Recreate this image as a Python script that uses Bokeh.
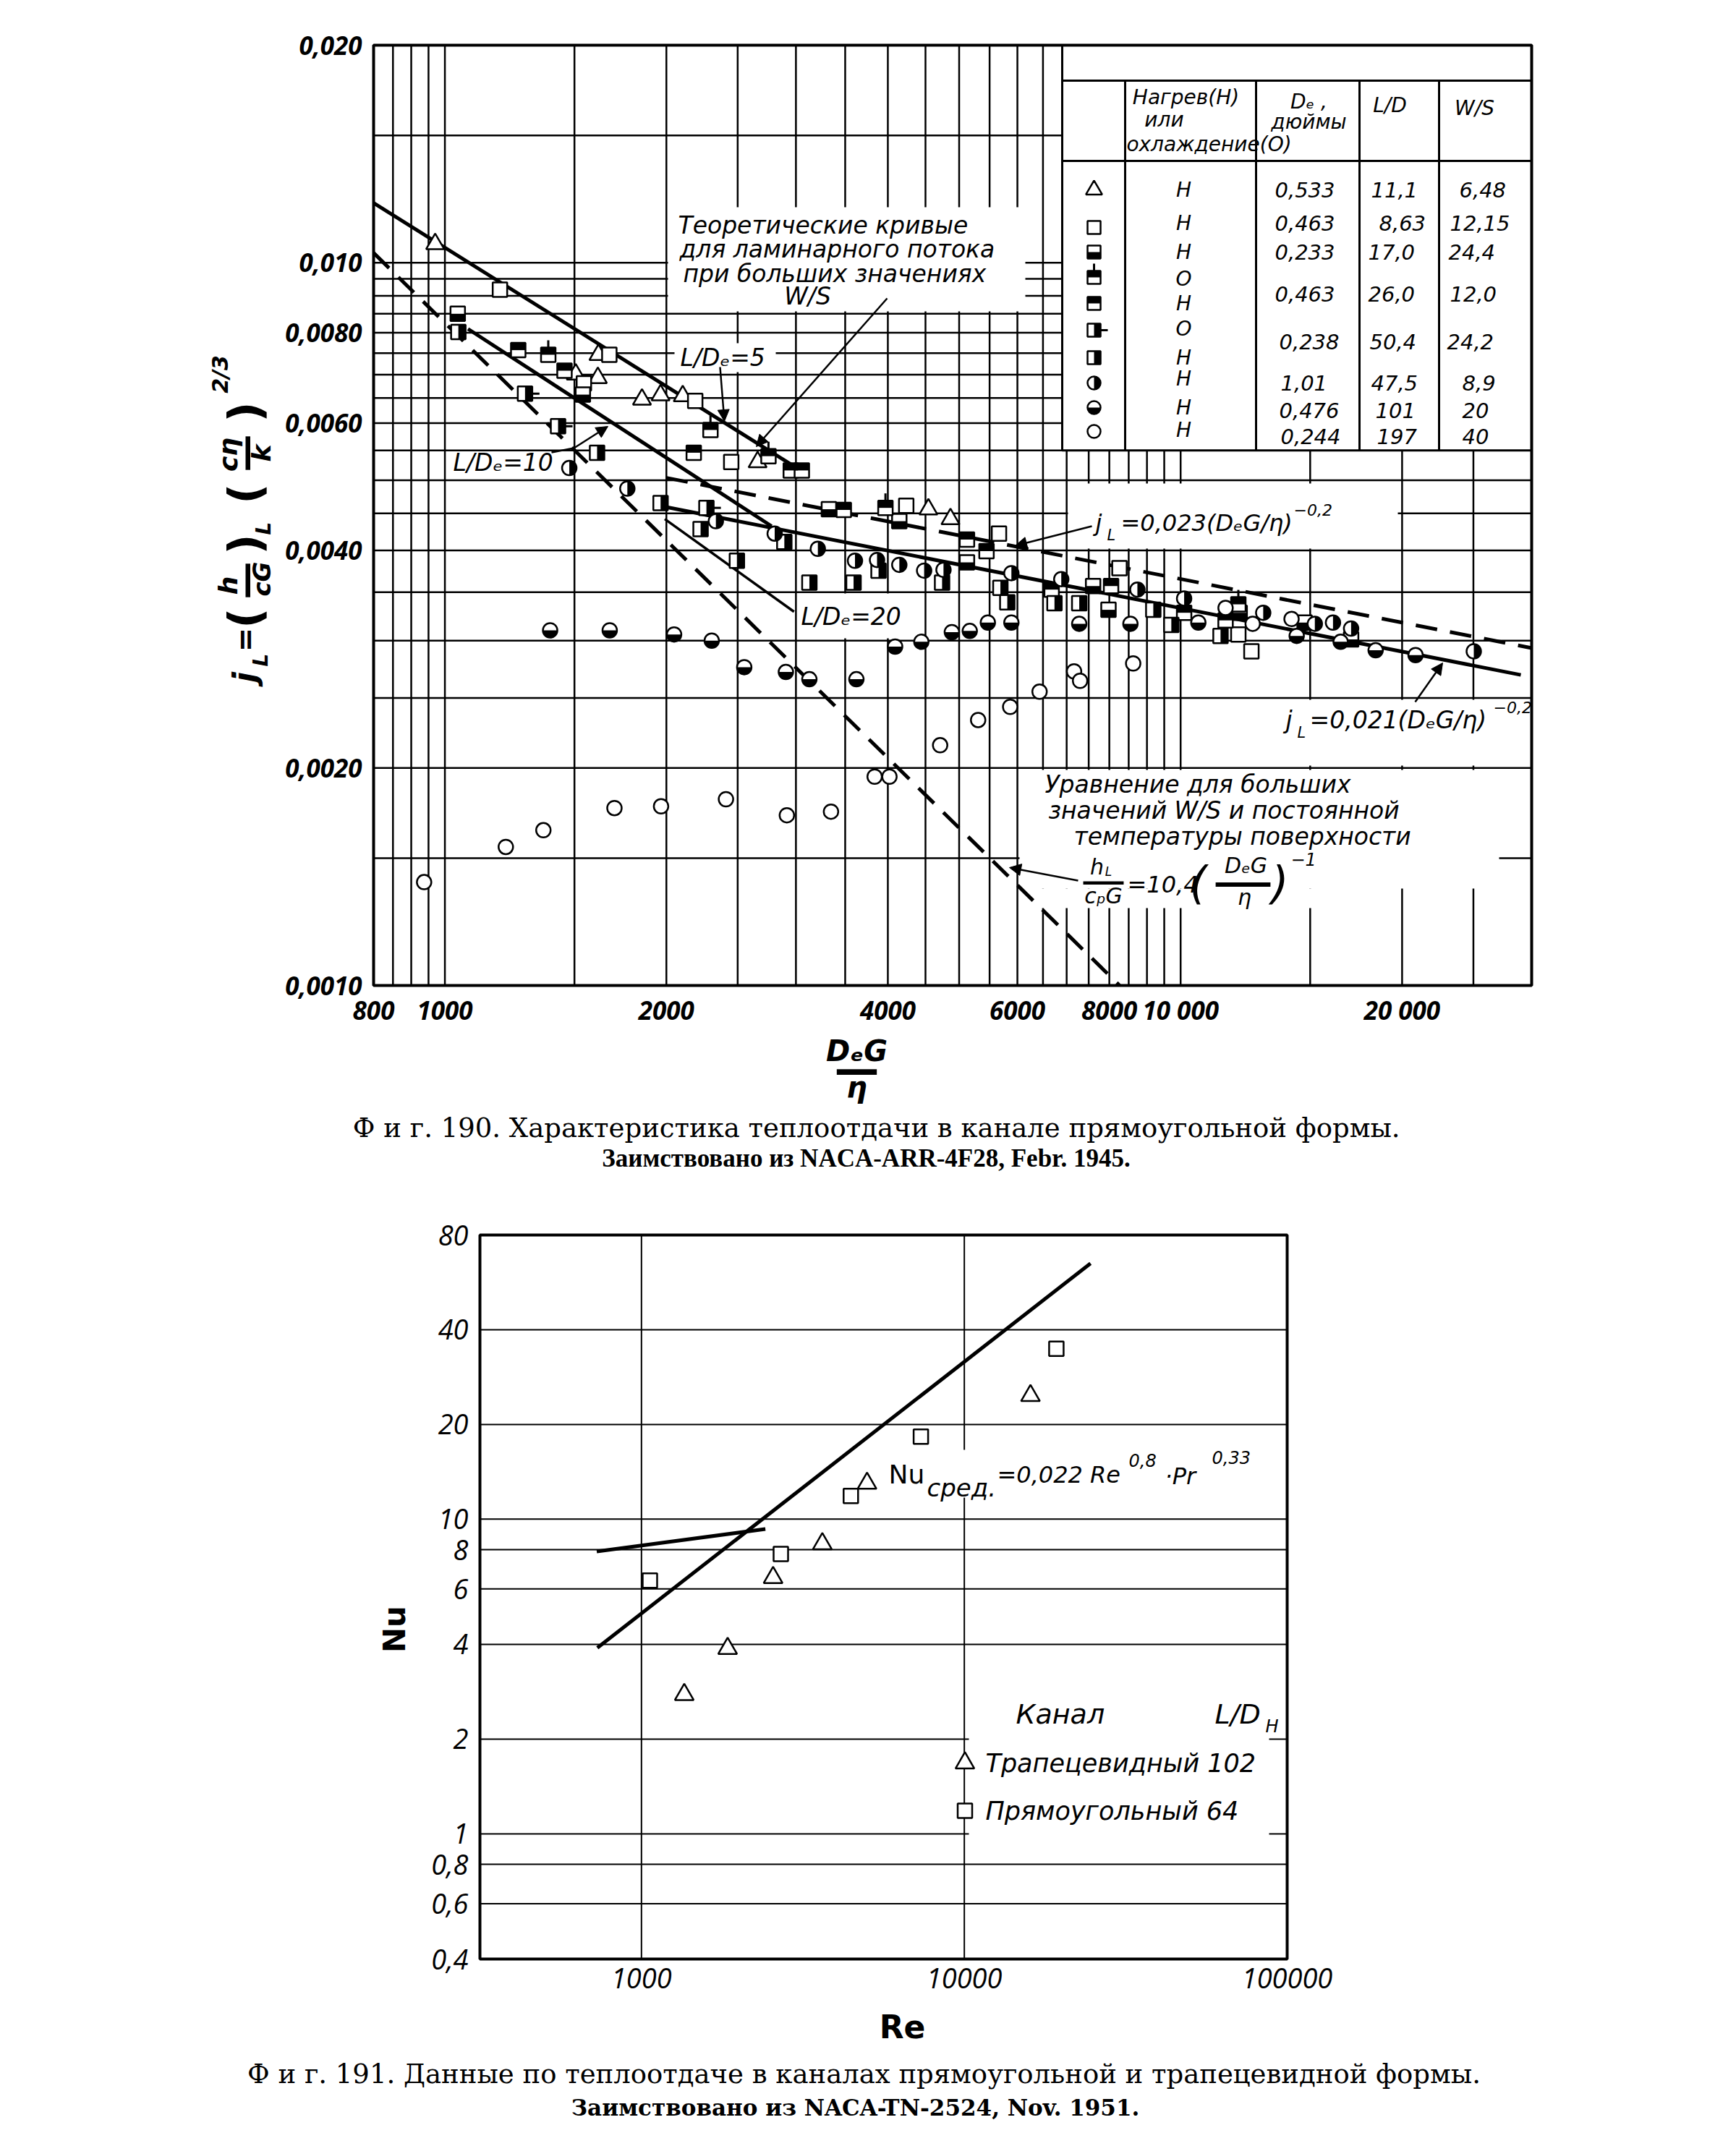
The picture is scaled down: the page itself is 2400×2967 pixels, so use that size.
import math
from bokeh.plotting import figure
from bokeh.models import FixedTicker, Label, Arrow, NormalHead, Range1d
from bokeh.layouts import column
from bokeh.embed import file_html
from bokeh.resources import INLINE

# ================= Fig. 190 : data =================
# 1: triangle  (H, 0.533, 11.1, 6.48)
tri_x = [970, 1617, 1506, 1614, 1853, 1964, 2105, 2661, 4541, 4866]
tri_j = [0.01062, 0.00746, 0.00701, 0.00693, 0.00647, 0.00656, 0.00654, 0.00530, 0.00456, 0.00442]
# 2: open square (H, 0.463, 8.63, 12.15)
sq_x = [1188, 1673, 1545, 2189, 2450, 4237, 5664, 8258, 11980, 12480]
sq_j = [0.00918, 0.00746, 0.00681, 0.00644, 0.00530, 0.00461, 0.00422, 0.00378, 0.003059, 0.00290]
# 3: square, lower half black (H, 0.233, 17.0, 24.4)
sqb_x = [1041, 1540, 3326, 4146, 5124, 7604, 7979, 12030, 14740, 17050]
sqb_j = [0.00850, 0.00657, 0.00456, 0.00439, 0.00385, 0.00357, 0.00331, 0.003279, 0.003178, 0.003012]
# 4: square, upper half black + flag (O, 0.463, 26.0, 12.0)
sqtf_x = [1382, 2296, 2753, 3970, 11980]
sqtf_j = [0.00746, 0.00587, 0.00540, 0.00458, 0.003368]
# 5: square, upper half black (H, 0.463, 26.0, 12.0)
sqt_x = [1258, 1454, 2179, 2952, 3056, 3485, 5124, 5447, 6679, 8044, 10110, 11510]
sqt_j = [0.00757, 0.00709, 0.00546, 0.00516, 0.00516, 0.00455, 0.00414, 0.00399, 0.00353, 0.00357, 0.003279, 0.00320]
# 6: square, right half black + flag (O, 0.238, 50.4, 24.2)
sqrf_x = [1285, 1425, 2267]
sqrf_j = [0.00659, 0.00594, 0.00458]
# 7: square, right half black (H, 0.238, 50.4, 24.2)
sqr_x = [1043, 1610, 1964, 2226, 2494, 2893, 3129, 3593, 3885, 4740, 5689, 5813, 6738, 7281, 9180, 9713, 11330]
sqr_j = [0.00802, 0.00546, 0.00465, 0.00428, 0.00387, 0.00411, 0.00361, 0.00361, 0.00375, 0.00361,
         0.00355, 0.00339, 0.00338, 0.00338, 0.00331, 0.003154, 0.003046]
# 8: circle, right half black (H, 1.01, 47.5, 8.9)
cr_x = [1476, 1770, 2335, 2807, 3213, 3609, 3867, 4146, 4481, 4761, 5888, 6883, 8735, 10110, 12950,
        15220, 16110, 17050, 25030]
cr_j = [0.00520, 0.00487, 0.00439, 0.00422, 0.00402, 0.00387, 0.00388, 0.00382, 0.00375, 0.00376,
        0.00372, 0.00365, 0.00353, 0.003432, 0.003279, 0.003166, 0.003178, 0.003118, 0.00290]
# 9: circle, lower half black (H, 0.476, 101, 20)
cb_x = [1390, 1675, 2049, 2305, 2552, 2907, 3129, 3625, 4092, 4442, 4887, 5169, 5470, 5888, 7281,
        8546, 10570, 14380, 16500, 18410, 20860]
cb_j = [0.00310, 0.00310, 0.00306, 0.00300, 0.002757, 0.002715, 0.002653, 0.002653, 0.002944, 0.002989,
        0.003082, 0.003094, 0.003178, 0.003178, 0.003166, 0.003166, 0.003178, 0.003046, 0.002989,
        0.002909, 0.002865]
# 10: open circle (H, 0.244, 197, 40)
co_x = [937, 1210, 1361, 1700, 1967, 2410, 2916, 3348, 3838, 4020, 4711, 5306, 5866, 6431, 7164, 7300,
        8620, 11510, 12530, 14150]
co_j = [0.00139, 0.001555, 0.00164, 0.00176, 0.00177, 0.00181, 0.00172, 0.00174, 0.001945, 0.001945,
        0.00215, 0.00233, 0.00243, 0.00255, 0.00272, 0.00264, 0.00279, 0.00333, 0.003166, 0.003215]

# curves (end points)
lam5_x, lam5_j = [800, 3100], [0.0121, 0.0051]
lam10_x, lam10_j = [1075, 2780], [0.0081, 0.00432]
lam20_x, lam20_j = [1990, 2982], [0.00442, 0.00329]
t021_x, t021_j = [1980, 29000], [0.00460, 0.00269]
t023_x, t023_j = [2000, 30000], [0.00504, 0.00293]
lamT_x, lamT_j = [800, 8260], [0.01032, 0.0010]

# table
tab_hc = ["Н", "Н", "Н", "О", "Н", "О", "Н", "Н", "Н", "Н"]
tab_de = ["0,533", "0,463", "0,233", "0,463", "0,238", "1,01", "0,476", "0,244"]
tab_ld = ["11,1", "8,63", "17,0", "26,0", "50,4", "47,5", "101", "197"]
tab_ws = ["6,48", "12,15", "24,4", "12,0", "24,2", "8,9", "20", "40"]
tab_kinds = ["tri", "sq", "sq_bot", "sq_top_flag", "sq_top", "sq_right_flag", "sq_right",
             "circ_right", "circ_bot", "circ"]

x1_ticks = [800, 1000, 2000, 4000, 6000, 8000, 10000, 20000]
x1_labels = ["800", "1000", "2000", "4000", "6000", "8000", "10 000", "20 000"]
y1_ticks = [0.001, 0.002, 0.004, 0.006, 0.008, 0.010, 0.020]
y1_labels = ["0,0010", "0,0020", "0,0040", "0,0060", "0,0080", "0,010", "0,020"]
x1_grid = [850, 900, 950, 1000, 1500, 2000, 2500, 3000, 3500, 4000, 4500, 5000, 5500, 6000, 6500,
           7000, 7500, 8000, 8500, 9000, 9500, 10000, 15000, 20000, 25000]
y1_grid = [0.0015, 0.0020, 0.0025, 0.0030, 0.0035, 0.0040, 0.0045, 0.0050, 0.0055, 0.0060, 0.0065,
           0.0070, 0.0075, 0.0080, 0.0085, 0.0090, 0.0095, 0.010, 0.015]

# ================= Fig. 191 : data =================
re_tri = [1357, 1849, 2557, 3633, 4997, 16030]
nu_tri = [2.77, 3.88, 6.52, 8.35, 13.0, 24.7]
re_sq = [1062, 2702, 4452, 7336, 19280]
nu_sq = [6.38, 7.75, 11.86, 18.3, 34.8]
re_turb, nu_turb = [730, 24600], [3.9, 65.0]
re_lam, nu_lam = [727, 2420], [7.9, 9.3]
x2_ticks = [1000, 10000, 100000]
x2_labels = ["1000", "10000", "100000"]
y2_ticks = [0.4, 0.6, 0.8, 1, 2, 4, 6, 8, 10, 20, 40, 80]
y2_labels = ["0,4", "0,6", "0,8", "1", "2", "4", "6", "8", "10", "20", "40", "80"]
y2_grid = [0.6, 0.8, 1, 2, 4, 6, 8, 10, 20, 40]
x2_grid = [1000, 10000]

# ================= layout (page pixels) =================
W = 2384
H1, H2 = 1670, 1280
PX0, PY1 = 8, 8                      # page position of figure 1
PY2 = PY1 + H1                       # page top of figure 2
FL, FR, FT, FB = 524, 2125, 70, 1370          # chart box 1
X0, X1, Y0, Y1 = 800, 30000, 0.001, 0.020
FL2, FR2, FT2, FB2 = 671, 1787, 1715, 2716     # chart box 2
RX0, RX1, NY0, NY1 = 316, 100000, 0.4, 80

ANN = "DejaVu Sans"
TICK = "Open Sans"


def mk_map(a0, a1, p0, p1, inverted=False):
    def f(pix):
        t = (pix - p0) / (p1 - p0)
        if inverted:
            t = (p1 - pix) / (p1 - p0)
        return a0 * (a1 / a0) ** t
    return f


dx1 = mk_map(X0, X1, FL, FR)
dy1 = mk_map(Y0, Y1, FT, FB, inverted=True)
dx2 = mk_map(RX0, RX1, FL2, FR2)
dy2 = mk_map(NY0, NY1, FT2, FB2, inverted=True)


def make_fig(h, ptop, fx, fy):
    p = figure(width=W, height=h, x_axis_type="log", y_axis_type="log",
               x_range=Range1d(fx(PX0), fx(PX0 + W)),
               y_range=Range1d(fy(ptop + h), fy(ptop)),
               output_backend="svg", toolbar_location=None, title=None,
               min_border=0, min_border_left=0, min_border_right=0,
               min_border_top=0, min_border_bottom=0)
    p.outline_line_color = None
    p.background_fill_color = "white"
    p.border_fill_color = "white"
    p.xgrid.visible = False
    p.ygrid.visible = False
    return p


def style_axes(p, xt, xl, yt, yl, xfix, yfix, tsize, tstyle, xstand, ystand):
    p.xaxis.ticker = FixedTicker(ticks=xt)
    p.yaxis.ticker = FixedTicker(ticks=yt)
    p.xaxis.major_label_overrides = dict(zip(xt, xl))
    p.yaxis.major_label_overrides = dict(zip(yt, yl))
    p.xaxis.fixed_location = xfix
    p.yaxis.fixed_location = yfix
    for ax in (p.xaxis, p.yaxis):
        ax.axis_line_color = None
        ax.major_tick_line_color = None
        ax.minor_tick_line_color = None
        ax.major_tick_in = 0
        ax.major_tick_out = 0
        ax.major_label_text_font = TICK
        ax.major_label_text_font_size = tsize
        ax.major_label_text_font_style = tstyle
        ax.major_label_text_color = "black"
    p.xaxis.major_label_standoff = xstand
    p.yaxis.major_label_standoff = ystand


def grid(p, xg, yg, xa, xb, ya, yb, lw):
    p.segment(x0=xg, x1=xg, y0=[ya] * len(xg), y1=[yb] * len(xg), line_color="black", line_width=lw)
    p.segment(x0=[xa] * len(yg), x1=[xb] * len(yg), y0=yg, y1=yg, line_color="black", line_width=lw)


def lab(p, fx, fy, ox, oy, text, size, style="italic", font=ANN, align="left",
        baseline="middle", angle=0.0):
    p.add_layout(Label(x=fx(ox), y=fy(oy), text=text, text_font=font,
                       text_font_size=f"{size}px", text_font_style=style,
                       text_align=align, text_baseline=baseline, angle=angle,
                       text_color="black"))


def draw_markers(p, kind, xs, ys, s, ppdx, ppdy, lw):
    xs = list(xs)
    ys = list(ys)
    kw = dict(width_units="screen", height_units="screen", fill_color="black", line_color=None)
    if kind == "tri":
        p.scatter(xs, ys, marker="triangle", size=s * 1.25, fill_color="white",
                  line_color="black", line_width=lw)
        return
    if kind.startswith("circ"):
        p.scatter(xs, ys, marker="circle", size=s, fill_color="white", line_color="black",
                  line_width=lw)
        if kind == "circ_bot":
            p.wedge(xs, ys, radius=s / 2, radius_units="screen", start_angle=math.pi,
                    end_angle=2 * math.pi, fill_color="black", line_color=None)
        elif kind == "circ_right":
            p.wedge(xs, ys, radius=s / 2, radius_units="screen", start_angle=-math.pi / 2,
                    end_angle=math.pi / 2, fill_color="black", line_color=None)
        return
    p.scatter(xs, ys, marker="square", size=s, fill_color="white", line_color="black",
              line_width=lw)
    fy = 10 ** ((s / 4) / ppdy)
    fx = 10 ** ((s / 4) / ppdx)
    if kind == "sq_bot":
        p.rect(x=xs, y=[y / fy for y in ys], width=s, height=s / 2, **kw)
    if kind in ("sq_top", "sq_top_flag"):
        p.rect(x=xs, y=[y * fy for y in ys], width=s, height=s / 2, **kw)
    if kind in ("sq_right", "sq_right_flag"):
        p.rect(x=[x * fx for x in xs], y=ys, width=s / 2, height=s, **kw)
    if kind == "sq_top_flag":
        ft = 10 ** ((s / 2 + 5) / ppdy)
        p.rect(x=xs, y=[y * ft for y in ys], width=3, height=10, **kw)
    if kind == "sq_right_flag":
        ft = 10 ** ((s / 2 + 5) / ppdx)
        p.rect(x=[x * ft for x in xs], y=ys, width=10, height=3, **kw)


def arrow(p, fx, fy, a, b, c, d):
    p.add_layout(Arrow(end=NormalHead(size=16, fill_color="black", line_color="black"),
                       x_start=fx(a), y_start=fy(b), x_end=fx(c), y_end=fy(d),
                       line_width=2.5, line_color="black"))


# ================= figure 190 =================
p1 = make_fig(H1, PY1, dx1, dy1)
style_axes(p1, x1_ticks, x1_labels, y1_ticks, y1_labels, Y0, X0, "35px", "bold italic", 10, 16)
ppdx1 = (FR - FL) / math.log10(X1 / X0)
ppdy1 = (FB - FT) / math.log10(Y1 / Y0)

grid(p1, x1_grid, y1_grid, X0, X1, Y0, Y1, 2.5)

# white text boxes (page px: left, right, top, bottom)
boxes1 = [(931, 1425, 294, 438), (940, 1080, 482, 522), (628, 772, 632, 668),
          (1111, 1264, 828, 890), (1484, 1940, 676, 766), (1782, 2125, 975, 1066),
          (1417, 2080, 1072, 1236), (1417, 1830, 1236, 1263)]
p1.quad(left=[dx1(b[0]) for b in boxes1], right=[dx1(b[1]) for b in boxes1],
        top=[dy1(b[2]) for b in boxes1], bottom=[dy1(b[3]) for b in boxes1],
        fill_color="white", line_color=None)

# table
TL, TB = 1476, 630.2
p1.quad(left=[dx1(TL)], right=[X1], top=[Y1], bottom=[dy1(TB)], fill_color="white",
        line_color="black", line_width=3)
seg_h = [(TL, FR, 119), (TL, FR, 230)]
seg_v = [(1563, 119, TB), (1744, 119, TB), (1887, 119, TB), (1997, 119, TB)]
p1.segment(x0=[dx1(a) for a, b, c in seg_h], x1=[dx1(b) for a, b, c in seg_h],
           y0=[dy1(c) for a, b, c in seg_h], y1=[dy1(c) for a, b, c in seg_h],
           line_color="black", line_width=3)
p1.segment(x0=[dx1(a) for a, b, c in seg_v], x1=[dx1(a) for a, b, c in seg_v],
           y0=[dy1(b) for a, b, c in seg_v], y1=[dy1(c) for a, b, c in seg_v],
           line_color="black", line_width=3)

# curves
p1.line(lamT_x, lamT_j, line_color="black", line_width=5, line_dash="30 18")
p1.line(t023_x, t023_j, line_color="black", line_width=5, line_dash="30 18")
p1.line(lam5_x, lam5_j, line_color="black", line_width=5)
p1.line(lam10_x, lam10_j, line_color="black", line_width=5)
p1.line(lam20_x, lam20_j, line_color="black", line_width=3.5)
p1.line(t021_x, t021_j, line_color="black", line_width=5)

# arrows / leaders
arrow(p1, dx1, dy1, 1234, 420, 1053, 625)
arrow(p1, dx1, dy1, 1003, 515, 1009, 590)
p1.line([dx1(770), dx1(801)], [dy1(633), dy1(627)], line_color="black", line_width=2.5)
arrow(p1, dx1, dy1, 801, 627, 848, 597)
arrow(p1, dx1, dy1, 1517, 735, 1411, 762)
arrow(p1, dx1, dy1, 1964, 978, 2002, 924)
arrow(p1, dx1, dy1, 1498, 1225, 1403, 1207)

# data markers
S1 = 20
series1 = [("tri", tri_x, tri_j), ("sq", sq_x, sq_j), ("sq_bot", sqb_x, sqb_j),
           ("sq_top_flag", sqtf_x, sqtf_j), ("sq_top", sqt_x, sqt_j),
           ("sq_right_flag", sqrf_x, sqrf_j), ("sq_right", sqr_x, sqr_j),
           ("circ_right", cr_x, cr_j), ("circ_bot", cb_x, cb_j), ("circ", co_x, co_j)]
for kind, xs, ys in series1:
    draw_markers(p1, kind, xs, ys, S1, ppdx1, ppdy1, 2.5)

# table keys
key_y = [270, 322, 356, 391, 427, 464, 502, 537, 571, 604]
for kind, ky in zip(tab_kinds, key_y):
    draw_markers(p1, kind, [dx1(1520)], [dy1(ky)], 18, ppdx1, ppdy1, 2.5)

# chart frame
p1.quad(left=[X0], right=[X1], bottom=[Y0], top=[Y1], fill_color=None, line_color="black",
        line_width=4)

lab1 = lambda ox, oy, t, s, **k: lab(p1, dx1, dy1, ox, oy, t, s, **k)
# table texts
lab1(1647, 142, "Нагрев(Н)", 28, align="center")
lab1(1617, 173, "или", 28, align="center")
lab1(1679, 207, "охлаждение(О)", 28, align="center")
lab1(1817, 148, "Dₑ ,", 28, align="center")
lab1(1817, 176, "дюймы", 28, align="center")
lab1(1929, 153, "L/D", 28, align="center")
lab1(2046, 157, "W/S", 28, align="center")
hc_y = [270, 316, 356, 393, 427, 462, 502, 531, 571, 602]
for t, y in zip(tab_hc, hc_y):
    lab1(1644, y, t, 28, align="center")
row_y = [270, 316, 356, 414, 480, 537, 575, 611]
de_l = [1770, 1770, 1770, 1770, 1776, 1778, 1776, 1778]
ld_l = [1903, 1914, 1899, 1899, 1901, 1903, 1909, 1911]
ws_l = [2025, 2012, 2010, 2012, 2008, 2029, 2029, 2029]
for i, y in enumerate(row_y):
    lab1(de_l[i], y, tab_de[i], 29)
    lab1(ld_l[i], y, tab_ld[i], 29)
    lab1(ws_l[i], y, tab_ws[i], 29)

# annotations
lab1(945, 319, "Теоретические  кривые", 33)
lab1(947, 352, "для ламинарного потока", 33)
lab1(952, 386, "при больших значениях", 33)
lab1(1124, 417, "W/S", 33, align="center")
lab1(948, 502, "L/Dₑ=5", 33)
lab1(634, 647, "L/Dₑ=10", 33)
lab1(1115, 860, "L/Dₑ=20", 33)
lab1(1522, 730, "j", 32)
lab1(1538, 747, "L", 21)
lab1(1557, 730, "=0,023(DₑG/η)", 32)
lab1(1796, 712, "−0,2", 22)
lab1(1785, 1003, "j", 33)
lab1(1801, 1020, "L", 21)
lab1(1818, 1003, "=0,021(DₑG/η)", 33)
lab1(2072, 985, "−0,2", 22)
lab1(1452, 1092, "Уравнение  для  больших", 33)
lab1(1457, 1128, "значений  W/S  и  постоянной", 33)
lab1(1492, 1164, "температуры  поверхности", 33)
lab1(1524, 1206, "h", 30, align="center")
lab1(1540, 1212, "L", 17, align="center")
lab1(1533, 1224, "—", 62, style="normal", align="center")
lab1(1533, 1246, "cₚG", 30, align="center")
lab1(1566, 1230, "=10,4", 32)
lab1(1652, 1228, "(", 62)
lab1(1730, 1204, "DₑG", 30, align="center")
lab1(1726, 1224, "—", 84, style="normal", align="center")
lab1(1728, 1248, "η", 30, align="center")
lab1(1765, 1228, ")", 62)
lab1(1792, 1195, "−1", 24)

# rotated y label
R = math.pi / 2
lab1(346, 944, "j", 44, style="bold italic", align="center", angle=R)
lab1(368, 920, "L", 28, style="bold italic", align="center", angle=R)
lab1(346, 892, "=", 40, style="bold", align="center", angle=R)
lab1(346, 862, "(", 62, style="bold", align="center", angle=R)
lab1(323, 817, "h", 36, style="bold italic", align="center", angle=R)
lab1(346, 810, "—", 52, style="bold", align="center", angle=R)
lab1(369, 808, "cG", 34, style="bold italic", align="center", angle=R)
lab1(346, 760, ")", 62, style="bold", align="center", angle=R)
lab1(372, 738, "L", 28, style="bold italic", align="center", angle=R)
lab1(346, 690, "(", 62, style="bold", align="center", angle=R)
lab1(323, 636, "cη", 36, style="bold italic", align="center", angle=R)
lab1(346, 634, "—", 52, style="bold", align="center", angle=R)
lab1(369, 634, "k", 36, style="bold italic", align="center", angle=R)
lab1(346, 577, ")", 62, style="bold", align="center", angle=R)
lab1(312, 525, "2/3", 30, style="bold italic", align="center", angle=R)

# x label
lab1(1192, 1460, "DₑG", 40, style="bold italic", align="center")
lab1(1192, 1485, "—", 62, style="bold", align="center")
lab1(1192, 1510, "η", 40, style="bold italic", align="center")

# captions
lab1(1231, 1567, "Ф и г. 190.  Характеристика  теплоотдачи в канале прямоугольной формы.", 37,
     style="normal", font="DejaVu Serif", align="center")
lab1(1205, 1609, "Заимствовано из NACA-ARR-4F28, Febr. 1945.", 35, style="bold",
     font="Liberation Serif", align="center")

# ================= figure 191 =================
p2 = make_fig(H2, PY2, dx2, dy2)
style_axes(p2, x2_ticks, x2_labels, y2_ticks, y2_labels, NY0, RX0, "38px", "italic", 12, 16)
grid(p2, x2_grid, y2_grid, RX0, RX1, NY0, NY1, 2)

boxes2 = [(1347, 1762, 2335, 2560), (1230, 1760, 2012, 2078)]
p2.quad(left=[dx2(b[0]) for b in boxes2], right=[dx2(b[1]) for b in boxes2],
        top=[dy2(b[2]) for b in boxes2], bottom=[dy2(b[3]) for b in boxes2],
        fill_color="white", line_color=None)

p2.line(re_turb, nu_turb, line_color="black", line_width=5)
p2.line(re_lam, nu_lam, line_color="black", line_width=5)
p2.scatter(re_tri, nu_tri, marker="triangle", size=26, fill_color="white", line_color="black",
           line_width=2.5)
p2.scatter(re_sq, nu_sq, marker="square", size=20, fill_color="white", line_color="black",
           line_width=2.5)
# legend keys
p2.scatter([dx2(1341.5)], [dy2(2445)], marker="triangle", size=26, fill_color="white",
           line_color="black", line_width=2.5)
p2.scatter([dx2(1341.5)], [dy2(2511)], marker="square", size=20, fill_color="white",
           line_color="black", line_width=2.5)
p2.quad(left=[RX0], right=[RX1], bottom=[NY0], top=[NY1], fill_color=None, line_color="black",
        line_width=4)

lab2 = lambda ox, oy, t, s, **k: lab(p2, dx2, dy2, ox, oy, t, s, **k)
lab2(1412, 2377, "Канал", 38)
lab2(1687, 2377, "L/D", 38)
lab2(1757, 2394, "H", 24)
lab2(1370, 2445, "Трапецевидный 102", 35)
lab2(1370, 2511, "Прямоугольный 64", 35)
lab2(1236, 2046, "Nu", 36, style="normal")
lab2(1289, 2064, "сред.", 34)
lab2(1386, 2046, "=0,022 Re", 32)
lab2(1568, 2026, "0,8", 24)
lab2(1618, 2048, "·Pr", 32)
lab2(1683, 2022, "0,33", 24)
lab2(553, 2260, "Nu", 42, style="bold", align="center", angle=math.pi / 2)
lab2(1255, 2810, "Re", 44, style="bold", align="center")
lab2(1202, 2875, "Ф и г. 191. Данные по теплоотдаче в каналах прямоугольной и трапецевидной формы.",
     37, style="normal", font="DejaVu Serif", align="center")
lab2(1190, 2921, "Заимствовано из NACA-TN-2524, Nov. 1951.", 31, style="bold",
     font="DejaVu Serif", align="center")

layout = column(p1, p2)
open("out.html", "w").write(file_html(layout, INLINE, "Fig. 190-191"))
